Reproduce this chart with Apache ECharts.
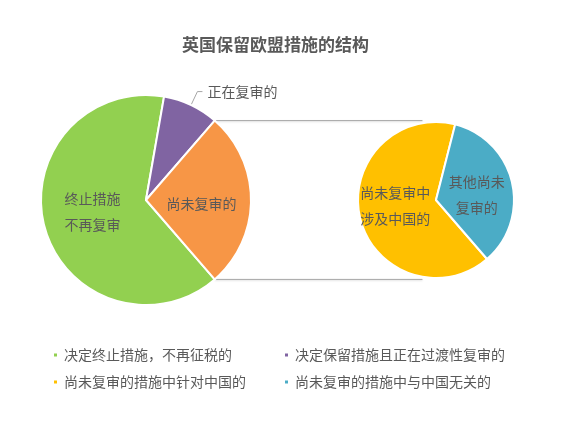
<!DOCTYPE html>
<html>
<head>
<meta charset="utf-8">
<script src="https://cdn.jsdelivr.net/npm/echarts@6/dist/echarts.min.js"></script>
<style>
  html, body { margin: 0; padding: 0; background: #fff; }
  #chart { width: 579px; height: 424px; }
</style>
</head>
<body>
<div id="chart"></div>
<script>
(function () {
  'use strict';

  // main pie: terminated / under review / not yet reviewed
  const leftNames = ['决定终止措施，不再征税的', '决定保留措施且正在过渡性复审的', '尚未复审的'];
  const leftLabels = ['终止措施\n不再复审', '正在复审的', '尚未复审的'];
  const leftValues = [64.1, 8.6, 27.3];

  // secondary pie: breakdown of the not-yet-reviewed part
  const rightNames = ['尚未复审的措施中针对中国的', '尚未复审的措施中与中国无关的'];
  const rightLabels = ['尚未复审中\n涉及中国的', '其他尚未\n复审的'];
  const rightValues = [65.3, 34.7];

  const leftColors = ['#92D050', '#8064A2', '#F79646'];
  const rightColors = ['#FFC000', '#4BACC6'];
  // small vertical nudges so the inside labels sit where Excel put them
  const leftDy = [-3, 0, 4];
  const rightDy = [-4, 4];
  const textColor = '#595959';
  const font = '"Noto Sans CJK SC", "Microsoft YaHei", sans-serif';

  const L = { cx: 146, cy: 200, r: 105 };
  const R = { cx: 436, cy: 200, r: 78 };

  // the split-off slice sits centred on the right side
  const leftTotal = leftValues.reduce(function (a, b) { return a + b; }, 0);
  const splitDeg = leftValues[2] / leftTotal * 360;
  const startAngle = -splitDeg / 2;

  const half = splitDeg / 2 * Math.PI / 180;
  const p1 = [L.cx + L.r * Math.cos(half), L.cy - L.r * Math.sin(half)];
  const p2 = [L.cx + L.r * Math.cos(half), L.cy + L.r * Math.sin(half)];
  const tipX = R.cx - R.r * Math.sin(10 * Math.PI / 180);

  const connector = function (a) {
    return {
      type: 'line',
      z: 1,
      shape: { x1: a[0], y1: a[1], x2: tipX, y2: a[1] },
      style: { stroke: '#a6a6a6', lineWidth: 1, shadowColor: 'rgba(0,0,0,0.15)', shadowBlur: 2, shadowOffsetY: 1 }
    };
  };

  const leftData = leftNames.map(function (n, i) {
    return {
      name: n,
      value: leftValues[i],
      itemStyle: { color: leftColors[i] },
      label: {
        position: i === 1 ? 'outside' : 'inside',
        formatter: leftLabels[i]
      },
      labelLine: { show: i === 1 }
    };
  });

  const rightData = rightNames.map(function (n, i) {
    return {
      name: n,
      value: rightValues[i],
      itemStyle: { color: rightColors[i] },
      label: { position: 'inside', formatter: rightLabels[i] }
    };
  });

  const legendBase = {
    orient: 'vertical',
    top: 347,
    padding: 0,
    icon: 'rect',
    itemWidth: 5,
    itemHeight: 5,
    itemGap: 11,
    selectedMode: false,
    textStyle: { color: textColor, fontSize: 14, fontFamily: font, lineHeight: 16, padding: [0, 0, 0, 1] }
  };

  const chart = echarts.init(document.getElementById('chart'), null, { renderer: 'canvas' });
  chart.setOption({
    animation: false,
    textStyle: { fontFamily: font },
    title: {
      text: '英国保留欧盟措施的结构',
      left: 182,
      top: 36,
      padding: 0,
      textStyle: { color: textColor, fontSize: 17, fontWeight: 'bold', fontFamily: font }
    },
    legend: [
      Object.assign({}, legendBase, { left: 52, data: [leftNames[0], rightNames[0]] }),
      Object.assign({}, legendBase, { left: 283, data: [leftNames[1], rightNames[1]] })
    ],
    graphic: [connector(p1), connector(p2)],
    series: [
      {
        type: 'pie',
        center: [L.cx, L.cy],
        radius: L.r,
        startAngle: startAngle,
        clockwise: true,
        avoidLabelOverlap: false,
        emphasis: { disabled: true },
        itemStyle: { borderColor: '#fff', borderWidth: 2 },
        label: { color: textColor, fontSize: 14, lineHeight: 26, fontFamily: font },
        labelLine: { length: 15, length2: 5, lineStyle: { color: '#a6a6a6', width: 1 } },
        labelLayout: function (p) { return { dy: leftDy[p.dataIndex] }; },
        data: leftData
      },
      {
        type: 'pie',
        center: [R.cx, R.cy],
        radius: R.r,
        startAngle: startAngle,
        clockwise: true,
        avoidLabelOverlap: false,
        emphasis: { disabled: true },
        itemStyle: { borderColor: '#fff', borderWidth: 2 },
        label: { color: textColor, fontSize: 14, lineHeight: 26, fontFamily: font },
        labelLayout: function (p) { return { dy: rightDy[p.dataIndex] }; },
        data: rightData
      }
    ]
  });
})();
</script>
</body>
</html>
